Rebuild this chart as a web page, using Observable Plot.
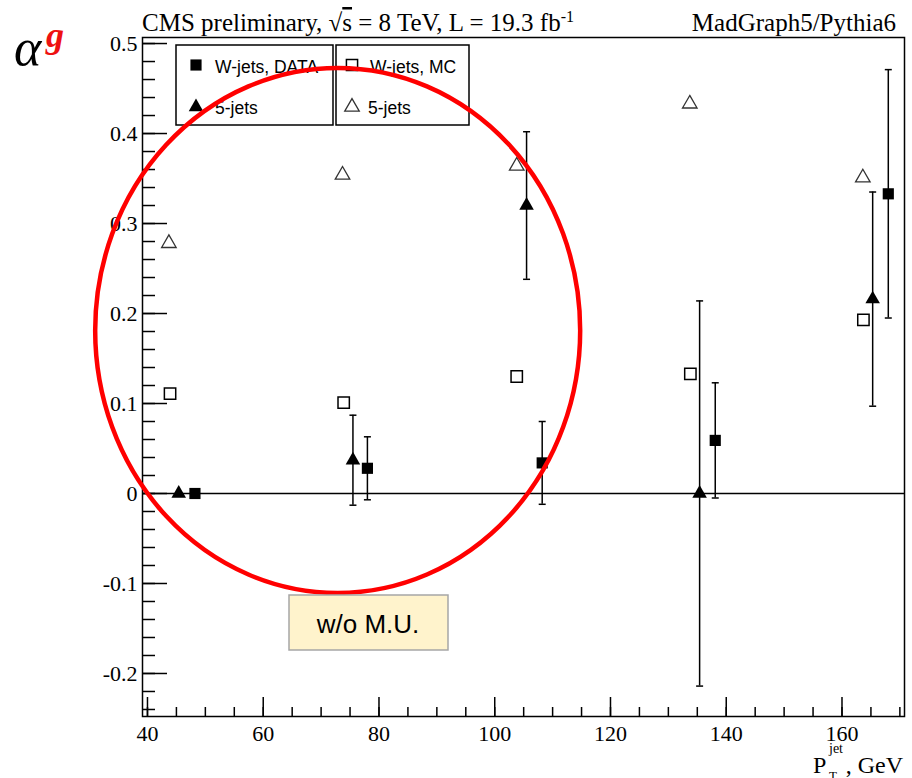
<!DOCTYPE html>
<html>
<head>
<meta charset="utf-8">
<script src="https://cdn.jsdelivr.net/npm/d3@7"></script>
<script src="https://cdn.jsdelivr.net/npm/@observablehq/plot@0.6"></script>
<style>
  body { margin: 0; background: #fff; }
  #chart { width: 912px; height: 778px; }
</style>
</head>
<body>
<div id="chart"></div>
<script>
// Gluon fraction α^g versus jet transverse momentum, W+jets and 5-jet samples

// W-jets, DATA (filled squares) with symmetric errors
const ptWData  = [48.2, 78.0, 108.2, 138.1, 168.0];
const wData    = [0.000, 0.028, 0.034, 0.059, 0.333];
const wDataErr = [0.000, 0.035, 0.046, 0.064, 0.138];

// 5-jets, DATA (filled triangles) with symmetric errors
const pt5Data     = [45.4, 75.5, 105.5, 135.4, 165.3];
const fiveData    = [0.000, 0.037, 0.320, 0.000, 0.216];
const fiveDataErr = [0.000, 0.050, 0.082, 0.214, 0.119];

// W-jets, MC (open squares)
const ptWMC = [43.9, 73.9, 103.8, 133.8, 163.7];
const wMC   = [0.111, 0.101, 0.130, 0.133, 0.193];

// 5-jets, MC (open triangles)
const pt5MC  = [43.7, 73.7, 103.8, 133.7, 163.6];
const fiveMC = [0.278, 0.354, 0.364, 0.433, 0.351];

// Axis ticks
const xMajor = [40, 60, 80, 100, 120, 140, 160];
const xTickLabels = ["40", "60", "80", "100", "120", "140", "160"];
const xMinor = d3.range(40, 171, 5);
const yMajor = [-0.2, -0.1, 0, 0.1, 0.2, 0.3, 0.4, 0.5];
const yTickLabels = ["-0.2", "-0.1", "0", "0.1", "0.2", "0.3", "0.4", "0.5"];
const yMinor = d3.range(-24, 51, 2).map(v => v / 100);

// Highlighted region (ellipse centre and radii in data units)
const ringCenter = [72.95, 0.1806];
const ringRadius = [41.9, 0.2917];

const rows = (xs, ys, es) => xs.map((x, i) => ({x, y: ys[i], err: es ? es[i] : 0}));
const wDataRows = rows(ptWData, wData, wDataErr);
const fiveDataRows = rows(pt5Data, fiveData, fiveDataErr);
const wMCRows = rows(ptWMC, wMC);
const fiveMCRows = rows(pt5MC, fiveMC);
const errRows = [...wDataRows, ...fiveDataRows].filter(d => d.err > 0);

// Short horizontal cap for error bars
const cap = {draw(ctx) { ctx.moveTo(-3.5, 0); ctx.lineTo(3.5, 0); }};

const plot = Plot.plot({
  width: 912,
  height: 778,
  marginLeft: 142,
  marginRight: 8,
  marginTop: 37,
  marginBottom: 62,
  x: {domain: [39.14, 170.8]},
  y: {domain: [-0.2478, 0.5067]},
  style: {fontFamily: "'Liberation Serif', serif", fontSize: "22px", color: "black", background: "white"},
  marks: [
    Plot.ruleY([0], {stroke: "black", strokeWidth: 1.5}),
    // x axis: labels, then inward major and minor ticks
    Plot.axisX({ticks: xMajor, tickSize: 0, tickPadding: 9, label: null,
      tickFormat: d => xTickLabels[xMajor.indexOf(d)]}),
    Plot.axisX({ticks: xMajor, tickSize: -19, strokeWidth: 1.5, label: null, tickFormat: () => ""}),
    Plot.axisX({ticks: xMinor, tickSize: -9, strokeWidth: 1.5, label: null, tickFormat: () => ""}),
    // y axis
    Plot.axisY({ticks: yMajor, tickSize: 0, tickPadding: 5, label: null,
      tickFormat: d => yTickLabels[yMajor.indexOf(d)]}),
    Plot.axisY({ticks: yMajor, tickSize: -25, strokeWidth: 1.5, label: null, tickFormat: () => ""}),
    Plot.axisY({ticks: yMinor, tickSize: -13, strokeWidth: 1.5, label: null, tickFormat: () => ""}),
    Plot.frame({stroke: "black", strokeWidth: 1.5}),
    // error bars
    Plot.ruleX(errRows, {x: "x", y1: d => d.y - d.err, y2: d => d.y + d.err, stroke: "black", strokeWidth: 1.5}),
    Plot.dot(errRows, {x: "x", y: d => d.y + d.err, symbol: cap, r: 3, fill: "none", stroke: "black", strokeWidth: 1.5}),
    Plot.dot(errRows, {x: "x", y: d => d.y - d.err, symbol: cap, r: 3, fill: "none", stroke: "black", strokeWidth: 1.5}),
    // MC markers (open)
    Plot.dot(wMCRows, {x: "x", y: "y", symbol: "square", r: 6.4, fill: "none", stroke: "black", strokeWidth: 1.5}),
    Plot.dot(fiveMCRows, {x: "x", y: "y", symbol: "triangle", r: 5.4, fill: "none", stroke: "#333", strokeWidth: 1.3}),
    // data markers (filled)
    Plot.dot(wDataRows, {x: "x", y: "y", symbol: "square", r: 6.3, fill: "black", stroke: "none"}),
    Plot.dot(fiveDataRows, {x: "x", y: "y", symbol: "triangle", r: 5.4, fill: "black", stroke: "none"})
  ]
});

document.getElementById("chart").appendChild(plot);

const svg = d3.select(plot);
const sx = plot.scale("x"), sy = plot.scale("y");
const serif = "'Liberation Serif', serif";
const sans = "'Liberation Sans', Arial, sans-serif";

// Annotation layer with left-anchored text
const notes = svg.append("g").attr("text-anchor", "start");

// Header lines
const head = notes.append("text").attr("x", 142).attr("y", 31)
  .attr("font-family", serif).attr("font-size", 25).attr("fill", "black");
head.append("tspan").text("CMS preliminary, √");
head.append("tspan").attr("text-decoration", "overline").text("s");
head.append("tspan").text(" = 8 TeV, L = 19.3 fb");
head.append("tspan").attr("dy", -9).attr("font-size", 16).text("-1");
notes.append("text").attr("x", 896).attr("y", 31).attr("text-anchor", "end")
  .attr("font-family", serif).attr("font-size", 25).attr("fill", "black")
  .text("MadGraph5/Pythia6");

// y title α^g
notes.append("text").attr("x", 14).attr("y", 65)
  .attr("font-family", serif).attr("font-style", "italic").attr("font-size", 52).attr("fill", "black")
  .text("α");
notes.append("text").attr("x", 46).attr("y", 47)
  .attr("font-family", serif).attr("font-style", "italic").attr("font-weight", "bold")
  .attr("font-size", 36).attr("fill", "#ee1111").text("g");

// x title P_T^jet, GeV
notes.append("text").attr("x", 813).attr("y", 773).attr("font-family", serif)
  .attr("font-size", 24).attr("fill", "black").text("P");
notes.append("text").attr("x", 829).attr("y", 753).attr("font-family", serif)
  .attr("font-size", 14).attr("fill", "black").text("jet");
notes.append("text").attr("x", 829).attr("y", 780).attr("font-family", serif)
  .attr("font-size", 13).attr("fill", "black").text("T");
notes.append("text").attr("x", 903).attr("y", 773).attr("text-anchor", "end").attr("font-family", serif)
  .attr("font-size", 24).attr("fill", "black").text(", GeV");

// Legend boxes
const legend = notes.append("g");
legend.append("rect").attr("x", 176).attr("y", 45).attr("width", 157).attr("height", 80)
  .attr("fill", "white").attr("stroke", "black").attr("stroke-width", 1.5);
legend.append("rect").attr("x", 336).attr("y", 45).attr("width", 133).attr("height", 80)
  .attr("fill", "white").attr("stroke", "black").attr("stroke-width", 1.5);
const sq = d3.symbol(d3.symbolSquare, Math.PI * 6.3 * 6.3)();
const tri = d3.symbol(d3.symbolTriangle, Math.PI * 5.4 * 5.4)();
legend.append("path").attr("d", sq).attr("transform", "translate(196,65)").attr("fill", "black");
legend.append("path").attr("d", tri).attr("transform", "translate(196,107)").attr("fill", "black");
legend.append("path").attr("d", sq).attr("transform", "translate(352,65)")
  .attr("fill", "none").attr("stroke", "black").attr("stroke-width", 1.5);
legend.append("path").attr("d", tri).attr("transform", "translate(352,107)")
  .attr("fill", "none").attr("stroke", "#333").attr("stroke-width", 1.3);
const legText = [
  ["W-jets, DATA", 215, 73], ["5-jets", 215, 114],
  ["W-jets, MC", 370, 73], ["5-jets", 368, 114]
];
legText.forEach(([t, x, y]) => legend.append("text").attr("x", x).attr("y", y)
  .attr("font-family", sans).attr("font-size", 17.5).attr("fill", "black").text(t));

// Red ring around the low-pT region
const cx = sx.apply(ringCenter[0]), cy = sy.apply(ringCenter[1]);
notes.append("ellipse")
  .attr("cx", cx).attr("cy", cy)
  .attr("rx", sx.apply(ringCenter[0] + ringRadius[0]) - cx)
  .attr("ry", cy - sy.apply(ringCenter[1] + ringRadius[1]))
  .attr("fill", "none").attr("stroke", "#ff0000").attr("stroke-width", 4.5);

// Note box
notes.append("rect").attr("x", 289).attr("y", 595).attr("width", 159).attr("height", 55)
  .attr("fill", "#fff3cc").attr("stroke", "#a6a6a6").attr("stroke-width", 1.5);
notes.append("text").attr("x", 368).attr("y", 633).attr("text-anchor", "middle")
  .attr("font-family", sans).attr("font-size", 26).attr("fill", "black").text("w/o M.U.");
</script>
</body>
</html>
